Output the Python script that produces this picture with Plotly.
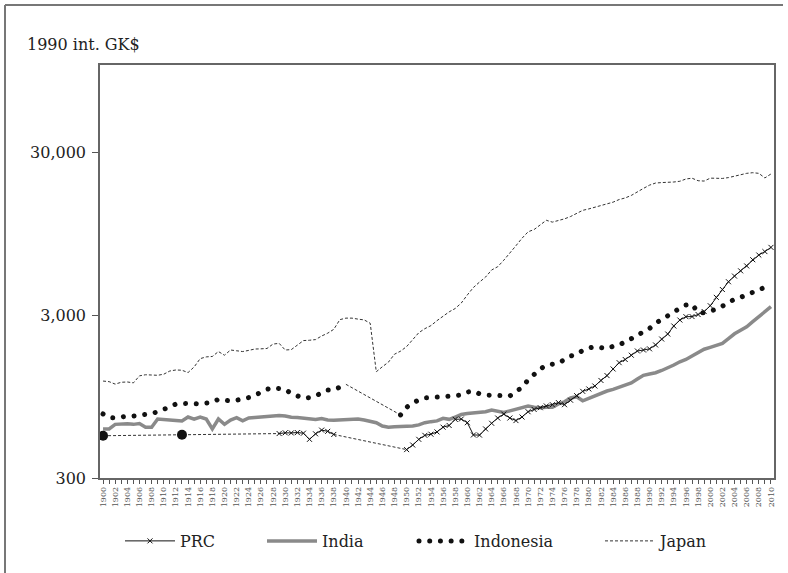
import plotly.graph_objects as go

# ---------------- data ----------------
years = list(range(1900, 2011))

prc_years = [1900, 1913] + list(range(1929, 1939)) + list(range(1950, 2011))
prc_values = [
    545, 552,
    562, 568, 567, 570, 565, 518, 560, 590, 580, 555,
    448, 478, 518, 548, 557, 575, 615, 630, 687, 690,
    655, 551, 550, 600, 650, 700, 740, 700, 675, 710,
    765, 790, 810, 830, 845, 870, 845, 900, 960, 1020,
    1055, 1100, 1190, 1275, 1400, 1530, 1600, 1700, 1805, 1830,
    1860, 1965, 2137, 2293, 2568, 2794, 2930, 2935, 3020, 3150,
    3420, 3850, 4300, 4800, 5200, 5600, 6000, 6550, 7000, 7350, 7800,
]

india_values = [
    599, 600, 640, 645, 645, 640, 648, 614, 614, 690,
    688, 682, 676, 671, 710, 688, 710, 690, 600, 690,
    640, 680, 703, 672, 700, 705, 710, 707, 713, 725,
    720, 707, 705, 700, 695, 685, 695, 680, 678, 680,
    688, 686, 690, 680, 670, 655, 625, 615, 618, 620,
    619, 625, 635, 655, 665, 672, 697, 687, 710, 735,
    745, 751, 751, 765, 784, 766, 757, 775, 790, 805,
    830, 815, 808, 815, 815, 855, 880, 930, 946, 893,
    925, 955, 985, 1025, 1050, 1080, 1104, 1150, 1214, 1280,
    1305, 1327, 1370, 1415, 1480, 1550, 1600, 1680, 1770, 1850,
    1900, 1960, 2011, 2150, 2300, 2420, 2542, 2730, 2930, 3150, 3375,
]

indonesia_values = [
    741, 705, 700, 715, 720, 720, 725, 735, 745, 765,
    800, 820, 853, 860, 861, 858, 853, 865, 874, 912,
    900, 890, 900, 912, 935, 965, 1010, 1050, 1075, 1070,
    1050, 990, 950, 925, 935, 955, 1000, 1040, 1040, 1080,
    1127, None, None, None, None, None, None, None, None, 731,
    814, 870, 905, 930, 935, 938, 945, 955, 960, 969,
    1010, 1025, 985, 969, 969, 960, 955, 955, 1020, 1075,
    1200, 1300, 1400, 1480, 1505, 1517, 1600, 1680, 1720, 1820,
    1880, 1918, 1890, 1863, 1930, 1960, 2060, 2130, 2240, 2380,
    2480, 2668, 2800, 2930, 3130, 3300, 3454, 3500, 3100, 3100,
    3150, 3250, 3400, 3600, 3750, 3850, 4000, 4170, 4300, 4436, 4550,
]

japan_values = [
    1180, 1170, 1130, 1160, 1165, 1150, 1270, 1290, 1285, 1280,
    1300, 1360, 1380, 1375, 1330, 1440, 1620, 1660, 1670, 1790,
    1700, 1830, 1810, 1790, 1820, 1855, 1860, 1870, 1990, 2010,
    1830, 1840, 1960, 2090, 2100, 2120, 2230, 2320, 2450, 2810,
    2870, 2870, 2830, 2800, 2670, 1346, 1444, 1541, 1725, 1800,
    1921, 2126, 2336, 2474, 2582, 2771, 2948, 3136, 3289, 3554,
    3986, 4426, 4777, 5129, 5668, 5934, 6506, 7152, 7983, 8874,
    9714, 10040, 10734, 11434, 11145, 11344, 11669, 12064, 12585, 13163,
    13428, 13754, 14078, 14307, 14773, 15331, 15679, 16251, 17185, 17943,
    18789, 19355, 19482, 19478, 19637, 19849, 20494, 20727, 20000, 19900,
    20738, 20700, 20650, 20900, 21350, 21800, 22200, 22400, 22200, 20800, 22000,
]

x_tick_labels = [str(y) if y % 2 == 0 else "" for y in years]
y_tick_values = [300, 3000, 30000]
y_tick_labels = ["300", "3,000", "30,000"]
y_axis_title = "1990 int. GK$"

# ---------------- derived series ----------------
prc = dict(zip(prc_years, prc_values))
prc_main = [prc.get(y) if y >= 1929 else None for y in years]
prc_gap_x = [1900, 1913, 1929, None, 1938, 1950]
prc_gap_y = [prc[y] if y is not None else None for y in prc_gap_x]
prc_dot_x = [1900, 1913]
prc_dot_y = [prc[y] for y in prc_dot_x]

indo = dict(zip(years, indonesia_values))
indo_gap_x = [1940, 1949]
indo_gap_y = [indo[y] for y in indo_gap_x]

FONT = "DejaVu Serif"
fig = go.Figure()

# Japan
fig.add_trace(go.Scatter(
    x=years, y=japan_values, mode="lines", name="Japan", legend="legend4",
    line=dict(color="#333333", width=1, dash="3px,2px"),
))
# Indonesia gap connector
fig.add_trace(go.Scatter(
    x=indo_gap_x, y=indo_gap_y, mode="lines", showlegend=False,
    line=dict(color="#333333", width=1, dash="3px,2px"),
))
# Indonesia (dotted line)
fig.add_trace(go.Scatter(
    x=years, y=indonesia_values, mode="lines", name="Indonesia", legend="legend3",
    line=dict(color="#111111", width=5, dash="4.5px,6.2px"),
))
# India
fig.add_trace(go.Scatter(
    x=years, y=india_values, mode="lines", name="India", legend="legend2",
    line=dict(color="#8a8a8a", width=3.5),
))
# PRC connectors
fig.add_trace(go.Scatter(
    x=prc_gap_x, y=prc_gap_y, mode="lines", showlegend=False,
    line=dict(color="#333333", width=1, dash="3px,2px"),
))
# PRC isolated points
fig.add_trace(go.Scatter(
    x=prc_dot_x, y=prc_dot_y, mode="markers", showlegend=False, cliponaxis=False,
    marker=dict(symbol="circle", size=10, color="#111111"),
))
# PRC
fig.add_trace(go.Scatter(
    x=years, y=prc_main, mode="lines+markers", name="PRC", legend="legend",
    line=dict(color="#111111", width=1),
    marker=dict(symbol="x-thin", size=5, line=dict(width=1, color="#111111")),
))

def px_x(p):
    return (p - 100) / 674.0

leg_common = dict(
    orientation="h", yanchor="middle", y=-0.1525, xanchor="left",
    font=dict(family=FONT, size=16, color="#222222"),
    bgcolor="rgba(0,0,0,0)", itemwidth=50,
)
fig.update_layout(
    legend=dict(x=px_x(120), **leg_common),
    legend2=dict(x=px_x(262), **leg_common),
    legend3=dict(x=px_x(414), **leg_common),
    legend4=dict(x=px_x(600), **leg_common),
)

fig.update_layout(
    width=788, height=573,
    margin=dict(l=100, r=14, t=65, b=95),
    paper_bgcolor="white", plot_bgcolor="white",
    font=dict(family=FONT, color="#222222"),
    xaxis=dict(
        range=[1899.5, 2010.5], tickmode="array", tickvals=years, ticktext=x_tick_labels,
        tickangle=-90, tickfont=dict(family=FONT, size=8, color="#555555"),
        ticks="outside", ticklen=4, tickcolor="#555555", tickwidth=1,
        showline=True, linecolor="#666666", linewidth=1.5, mirror=True,
        showgrid=False, zeroline=False,
    ),
    yaxis=dict(
        type="log", range=[2.4771, 5.011],
        tickmode="array", tickvals=y_tick_values, ticktext=y_tick_labels,
        tickfont=dict(family=FONT, size=16, color="#222222"),
        ticks="outside", ticklen=6, tickcolor="#555555", tickwidth=1,
        ticklabelstandoff=3,
        showline=True, linecolor="#666666", linewidth=1.5, mirror=True,
        showgrid=False, zeroline=False,
    ),
    annotations=[dict(
        text=y_axis_title, xref="paper", yref="paper", x=px_x(25), y=1 + 20 / 413.0,
        xanchor="left", yanchor="middle", showarrow=False,
        font=dict(family=FONT, size=16, color="#222222"),
    )],
    shapes=[
        dict(type="line", xref="paper", yref="paper", x0=px_x(5), x1=px_x(783),
             y0=1 + 60 / 413.0, y1=1 + 60 / 413.0, line=dict(color="#777777", width=2)),
        dict(type="line", xref="paper", yref="paper", x0=px_x(5), x1=px_x(5),
             y0=1 + 60 / 413.0, y1=-100 / 413.0, line=dict(color="#777777", width=2)),
    ],
)

# page tweaks: no body margin; round dots for the dotted Indonesia line
post = """
document.body.style.margin = '0';
document.querySelectorAll('path').forEach(function(p) {
  var da = (p.style.strokeDasharray || '').replace(/\\s/g, '');
  if (da === '4.5px,6.2px') {
    p.style.strokeDasharray = '0.01px,10.7px';
    p.style.strokeLinecap = 'round';
  }
});
"""

fig.write_html("out.html", config={"displayModeBar": False}, post_script=post)
